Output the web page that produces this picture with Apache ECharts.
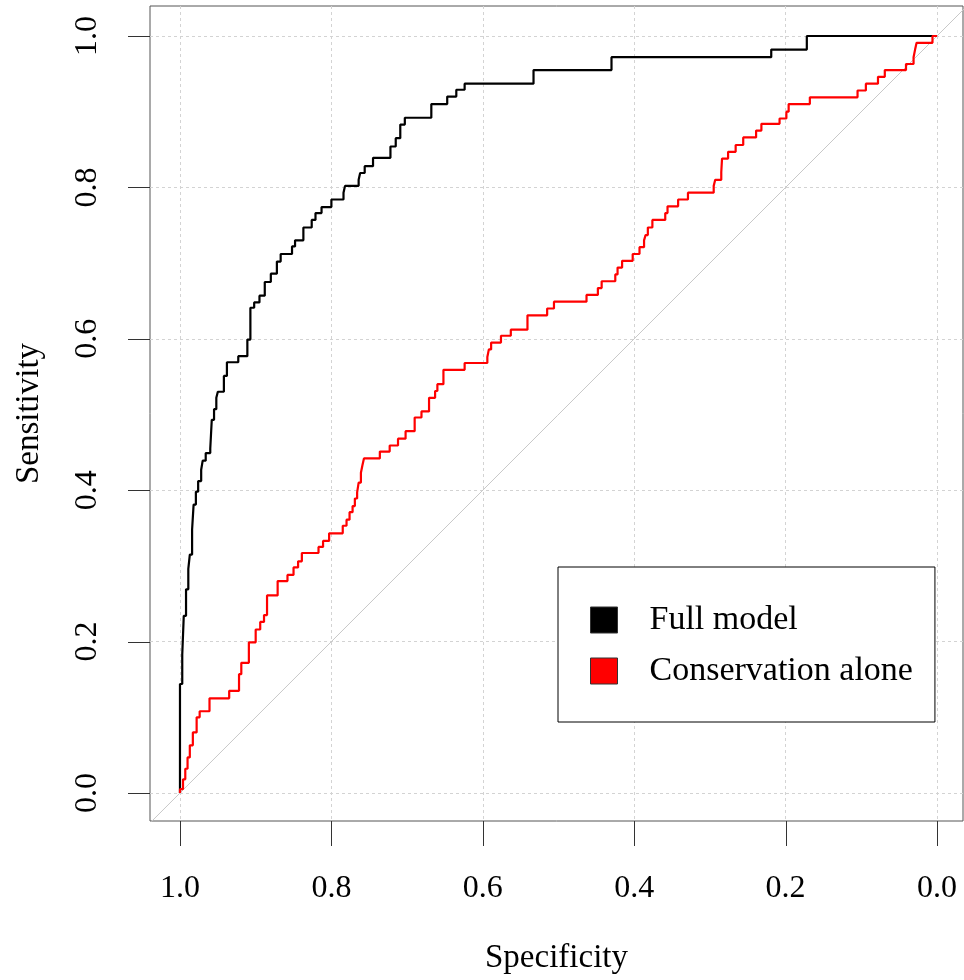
<!DOCTYPE html>
<html>
<head>
<meta charset="utf-8">
<script src="https://cdn.jsdelivr.net/npm/echarts@6/dist/echarts.min.js"></script>
<style>
  html, body { margin: 0; padding: 0; background: #fff; }
  #chart { width: 964px; height: 980px; }
</style>
</head>
<body>
<div id="chart"></div>
<script>
// Tick values shared by both axes
const tickValues = [0, 0.2, 0.4, 0.6, 0.8, 1.0];

// Full model ROC: specificity where each vertical rise happens, and sensitivity level before it
const fullSpec = [1.000, 0.997, 0.995, 0.992, 0.989, 0.987, 0.984, 0.982, 0.979, 0.976,
  0.972, 0.970, 0.966, 0.960, 0.958, 0.955, 0.952, 0.950, 0.942, 0.938,
  0.923, 0.911, 0.907, 0.902, 0.895, 0.888, 0.880, 0.872, 0.867, 0.852,
  0.848, 0.837, 0.826, 0.821, 0.813, 0.800, 0.784, 0.782, 0.764, 0.762,
  0.756, 0.745, 0.722, 0.715, 0.709, 0.703, 0.668, 0.647, 0.635, 0.624,
  0.533, 0.430, 0.219, 0.172, 0.000];
const fullSens = [0, 0.144, 0.183, 0.234, 0.269, 0.296, 0.315, 0.348, 0.381, 0.398,
  0.412, 0.427, 0.439, 0.449, 0.455, 0.493, 0.507, 0.522, 0.530, 0.551,
  0.569, 0.577, 0.599, 0.641, 0.648, 0.657, 0.675, 0.686, 0.702, 0.712,
  0.722, 0.730, 0.747, 0.757, 0.766, 0.774, 0.784, 0.793, 0.802, 0.810,
  0.819, 0.828, 0.839, 0.854, 0.865, 0.883, 0.892, 0.910, 0.920, 0.929,
  0.937, 0.955, 0.972, 0.982, 1.000];

// Conservation alone ROC
const consSpec = [1.000, 0.996, 0.993, 0.990, 0.987, 0.983, 0.978, 0.974, 0.961, 0.935,
  0.922, 0.919, 0.909, 0.900, 0.894, 0.889, 0.885, 0.871, 0.858, 0.850,
  0.844, 0.839, 0.817, 0.811, 0.803, 0.785, 0.780, 0.776, 0.772, 0.769,
  0.766, 0.764, 0.761, 0.759, 0.757, 0.736, 0.723, 0.712, 0.702, 0.690,
  0.681, 0.671, 0.663, 0.660, 0.652, 0.624, 0.594, 0.592, 0.589, 0.576,
  0.563, 0.541, 0.515, 0.506, 0.463, 0.448, 0.443, 0.425, 0.422, 0.416,
  0.402, 0.393, 0.387, 0.385, 0.382, 0.376, 0.359, 0.356, 0.342, 0.329,
  0.295, 0.293, 0.285, 0.284, 0.276, 0.266, 0.256, 0.239, 0.232, 0.208,
  0.199, 0.196, 0.168, 0.105, 0.094, 0.078, 0.069, 0.041, 0.031, 0.029,
  0.027, 0.006, 0.000];
const consSens = [0, 0.005, 0.018, 0.032, 0.047, 0.063, 0.080, 0.100, 0.108, 0.125,
  0.135, 0.157, 0.172, 0.199, 0.216, 0.226, 0.235, 0.261, 0.280, 0.288,
  0.298, 0.306, 0.317, 0.325, 0.333, 0.343, 0.353, 0.361, 0.371, 0.379,
  0.389, 0.397, 0.410, 0.423, 0.433, 0.442, 0.451, 0.459, 0.468, 0.478,
  0.496, 0.504, 0.522, 0.531, 0.540, 0.559, 0.568, 0.576, 0.586, 0.595,
  0.604, 0.612, 0.631, 0.640, 0.649, 0.658, 0.667, 0.676, 0.685, 0.694,
  0.703, 0.712, 0.721, 0.730, 0.737, 0.747, 0.757, 0.766, 0.775, 0.784,
  0.793, 0.802, 0.810, 0.820, 0.838, 0.847, 0.856, 0.866, 0.875, 0.884,
  0.891, 0.900, 0.910, 0.919, 0.928, 0.937, 0.946, 0.955, 0.963, 0.972,
  0.982, 0.991, 1.000];

// Chance line: sensitivity = 1 - specificity
const chanceSpec = [1.1, -0.1];
const chanceSens = [-0.1, 1.1];

const seriesNames = ['Full model', 'Conservation alone'];
const seriesColors = ['#000000', '#ff0000'];

const FONT = '"Liberation Serif", "DejaVu Serif", serif';

const X_MIN = -0.0343, X_MAX = 1.0396;
const Y_MIN = -0.037, Y_MAX = 1.0396;

const pairs = (xs, ys) => xs.map((x, i) => [x, ys[i]]);

const chart = echarts.init(document.getElementById('chart'), null, { renderer: 'canvas' });

const gridLine = { show: true, lineStyle: { color: '#d3d3d3', width: 1, type: [3, 3] } };
const axisLineStyle = { show: false, onZero: false };

const TICK_LEN_X = 25, TICK_LEN_Y = 22;

chart.setOption({
  animation: false,
  backgroundColor: '#ffffff',
  grid: {
    left: 150, right: 1, top: 6, bottom: 158,
    show: true, borderColor: '#555555', borderWidth: 1, backgroundColor: 'transparent'
  },
  xAxis: {
    type: 'value',
    inverse: true,
    position: 'bottom',
    min: X_MIN, max: X_MAX,
    name: 'Specificity',
    nameLocation: 'middle',
    nameGap: 121,
    nameTextStyle: { fontFamily: FONT, fontSize: 33, color: '#000' },
    axisLine: axisLineStyle,
    axisTick: { show: false, customValues: tickValues },
    axisLabel: { customValues: tickValues, margin: 52, fontFamily: FONT, fontSize: 32, color: '#000',
      formatter: v => v.toFixed(1) },
    splitLine: gridLine
  },
  yAxis: {
    type: 'value',
    position: 'left',
    min: Y_MIN, max: Y_MAX,
    name: 'Sensitivity',
    nameLocation: 'middle',
    nameGap: 104,
    nameTextStyle: { fontFamily: FONT, fontSize: 33, color: '#000' },
    axisLine: axisLineStyle,
    axisTick: { show: false, customValues: tickValues },
    axisLabel: { customValues: tickValues, margin: 46, rotate: 90, fontFamily: FONT, fontSize: 32, color: '#000',
      formatter: v => v.toFixed(1) },
    splitLine: gridLine
  },
  legend: {
    orient: 'vertical',
    left: 558, top: 567,
    padding: [36, 22, 34, 32],
    itemGap: 17,
    itemWidth: 27, itemHeight: 26,
    itemTextGap: 32,
    icon: 'rect',
    backgroundColor: '#ffffff',
    borderColor: '#000000', borderWidth: 1, borderRadius: 0,
    textStyle: { fontFamily: FONT, fontSize: 34, color: '#000', padding: [0, 0, 0, 27] },
    itemStyle: { borderColor: '#333', borderWidth: 1 },
    data: seriesNames
  },
  series: [
    {
      type: 'line', name: 'chance', silent: true,
      data: pairs(chanceSpec, chanceSens),
      symbol: 'none', clip: true,
      lineStyle: { color: '#c8c8c8', width: 1 },
      z: 1
    },
    {
      type: 'line', name: seriesNames[0],
      data: pairs(fullSpec, fullSens),
      step: 'start', symbol: 'none',
      itemStyle: { color: seriesColors[0] },
      lineStyle: { color: seriesColors[0], width: 2.2 },
      z: 2
    },
    {
      type: 'line', name: seriesNames[1],
      data: pairs(consSpec, consSens),
      step: 'start', symbol: 'none',
      itemStyle: { color: seriesColors[1] },
      lineStyle: { color: seriesColors[1], width: 2.2 },
      z: 3
    }
  ]
});

// Outward tick marks, positioned through the axes' own scales
const xLeft = chart.convertToPixel({ xAxisIndex: 0 }, X_MAX);
const yBottom = chart.convertToPixel({ yAxisIndex: 0 }, Y_MIN);
const tickGraphics = [];
tickValues.forEach(v => {
  const px = Math.round(chart.convertToPixel({ xAxisIndex: 0 }, v)) + 0.5;
  tickGraphics.push({
    type: 'line', silent: true, z: 100,
    shape: { x1: px, y1: yBottom, x2: px, y2: yBottom + TICK_LEN_X },
    style: { stroke: '#333333', lineWidth: 1 }
  });
  const py = Math.round(chart.convertToPixel({ yAxisIndex: 0 }, v)) + 0.5;
  tickGraphics.push({
    type: 'line', silent: true, z: 100,
    shape: { x1: xLeft - TICK_LEN_Y, y1: py, x2: xLeft, y2: py },
    style: { stroke: '#333333', lineWidth: 1 }
  });
});
chart.setOption({ graphic: { elements: tickGraphics } });
</script>
</body>
</html>
